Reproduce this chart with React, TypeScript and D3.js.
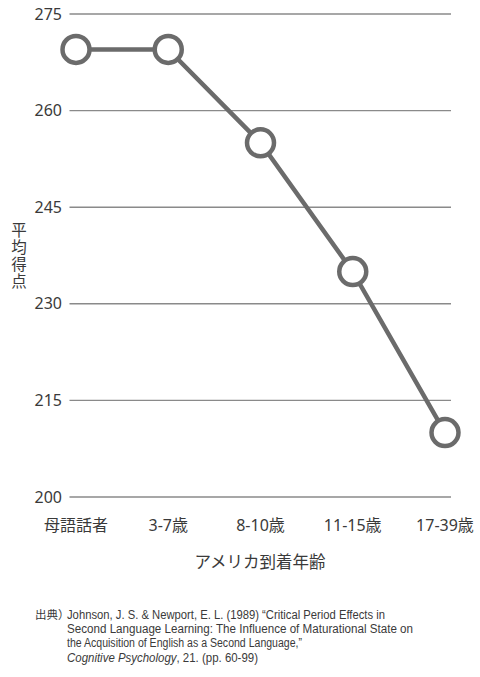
import React from "react";
import * as d3 from "d3";

const categories = ["母語話者", "3-7歳", "8-10歳", "11-15歳", "17-39歳"];
const scores = [269.5, 269.5, 255, 235, 210];
const yTicks = [200, 215, 230, 245, 260, 275];
const yTitle = "平均得点";
const xTitle = "アメリカ到着年齢";
const sourceLabel = "出典）";
const sourceLines = [
  "Johnson, J. S. & Newport, E. L. (1989) “Critical Period Effects in",
  "Second Language Learning: The Influence of Maturational State on",
  "the Acquisition of English as a Second Language,”",
];
const sourceJournal = "Cognitive Psychology";
const sourceTail = ", 21. (pp. 60-99)";

const W = 480;
const H = 677;
const FONT = "'Noto Sans', 'Noto Sans CJK JP', sans-serif";
const NOTE_FONT = "'Liberation Sans', Arial, sans-serif";
const TEXT = "#3a3a3a";
const GRID = "#8a8a8a";
const MARK = "#6b6b6b";

export default function App() {
  const x = d3.scalePoint<string>().domain(categories).range([76, 445]);
  const y = d3.scaleLinear().domain([200, 275]).range([497, 14]);
  const line = d3
    .line<number>()
    .x((_, i) => x(categories[i]) as number)
    .y((d) => y(d));

  return (
    <svg
      width={W}
      height={H}
      style={{ position: "absolute", left: 0, top: 0, background: "#fff" }}
      fontFamily={FONT}
    >
      {yTicks.map((t) => (
        <g key={t}>
          <line x1={69.5} x2={451} y1={y(t)} y2={y(t)} stroke={GRID} strokeWidth={1.4} />
          <text
            x={62}
            y={y(t)}
            dy="0.35em"
            textAnchor="end"
            fontSize={16}
            fill={TEXT}
          >
            {t}
          </text>
        </g>
      ))}
      <path d={line(scores) || ""} fill="none" stroke={MARK} strokeWidth={4.5} />
      {scores.map((v, i) => (
        <circle
          key={i}
          cx={x(categories[i])}
          cy={y(v)}
          r={13.5}
          fill="#fff"
          stroke={MARK}
          strokeWidth={4.5}
        />
      ))}
      {categories.map((c) => (
        <text
          key={c}
          x={x(c)}
          y={531}
          textAnchor="middle"
          fontSize={16}
          fill={TEXT}
        >
          {c}
        </text>
      ))}
      <text x={260} y={568} textAnchor="middle" fontSize={16.5} fill={TEXT}>
        {xTitle}
      </text>
      <text
        x={18}
        y={222}
        fontSize={15.5}
        fill={TEXT}
        letterSpacing={1.5}
        style={{ writingMode: "vertical-rl", textOrientation: "upright" } as any}
      >
        {yTitle}
      </text>
      <text x={35} y={619} fontSize={11.5} fill={TEXT} fontFamily="'Noto Sans CJK JP', sans-serif">
        {sourceLabel}
      </text>
      {sourceLines.map((s, i) => (
        <text
          key={i}
          x={67}
          y={619 + i * 14.2}
          fontSize={12}
          fill={TEXT}
          fontFamily={NOTE_FONT}
          textLength={[318, 346, 235][i]}
          lengthAdjust="spacingAndGlyphs"
        >
          {s}
        </text>
      ))}
      <text
        x={67}
        y={619 + 3 * 14.2}
        fontSize={12}
        fill={TEXT}
        fontFamily={NOTE_FONT}
        textLength={191}
        lengthAdjust="spacingAndGlyphs"
      >
        <tspan fontStyle="italic">{sourceJournal}</tspan>
        <tspan>{sourceTail}</tspan>
      </text>
    </svg>
  );
}
